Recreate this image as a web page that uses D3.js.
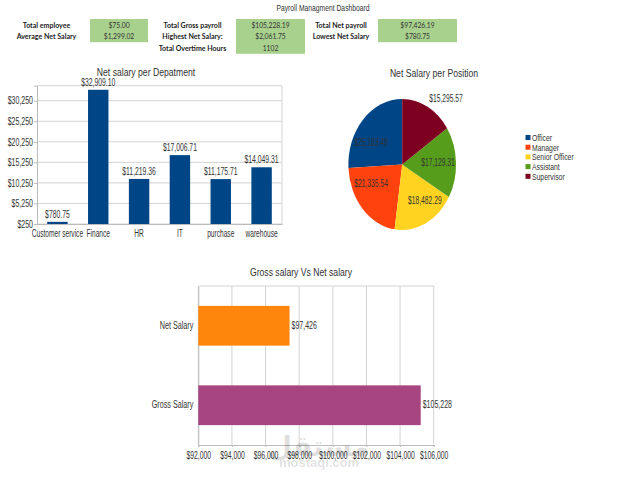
<!DOCTYPE html>
<html>
<head>
<meta charset="utf-8">
<script src="https://cdn.jsdelivr.net/npm/d3@7"></script>
<style>
  html, body { margin: 0; padding: 0; background: #fff; }
  text { font-family: "Liberation Sans", sans-serif; fill: #333; }
  .kpi { font-family: Lato, sans-serif; font-size: 8px; }
  .kpi-label { font-weight: 700; fill: #222; }
  .grid line { stroke: #d4d4d4; stroke-width: 1; }
  .axis path, .axis line { stroke: #bbb; }
  .axis text { fill: #333; }
</style>
</head>
<body>
<div id="chart"></div>
<script>
const departments = ["Customer service", "Finance", "HR", "IT", "purchase", "warehouse"];
const departmentNet = [780.75, 32909.1, 11219.36, 17006.71, 11175.71, 14049.31];
const departmentTicks = [250, 5250, 10250, 15250, 20250, 25250, 30250];

const positions = ["Officer", "Manager", "Senior Officer", "Assistant", "Supervisor"];
const positionNet = [25183.48, 21335.54, 18482.29, 17129.31, 15295.57];
const positionColors = ["#004586", "#ff420e", "#ffd320", "#579d1c", "#7e0021"];

const payTypes = ["Net Salary", "Gross Salary"];
const payTotals = [97426.19, 105228.19];
const payColors = ["#ff860d", "#a64580"];
const payTicks = [92000, 94000, 96000, 98000, 100000, 102000, 104000, 106000];

const kpiLabels = ["Total employee", "Average Net Salary", "Total Gross payroll", "Highest Net Salary:",
  "Total Overtime Hours", "Total Net payroll", "Lowest Net Salary"];
const kpiValues = ["$75.00", "$1,299.02", "$105,228.19", "$2,061.75", "1102", "$97,426.19", "$780.75"];

const width = 640;
const height = 480;

const svg = d3.select("#chart").append("svg")
  .attr("width", width)
  .attr("height", height)
  .style("display", "block");

// the original text is a horizontally squashed screenshot, no narrow font here so squeeze it
function squeeze(selection, ratio) {
  selection.each(function () {
    d3.select(this)
      .attr("lengthAdjust", "spacingAndGlyphs")
      .attr("textLength", this.getComputedTextLength() * ratio);
  });
}

svg.append("text")
  .attr("x", 323).attr("y", 10.5)
  .attr("text-anchor", "middle")
  .style("font-size", "9px")
  .text("Payroll Managment Dashboard")
  .call(squeeze, 0.75);

// kpi header, three groups of label + green box
const kpiGroups = [
  { labelX: 46.5, boxX: 90, boxW: 58, items: [0, 1] },
  { labelX: 192.5, boxX: 236, boxW: 69, items: [2, 3, 4] },
  { labelX: 341, boxX: 378, boxW: 79, items: [5, 6] }
];

kpiGroups.forEach(function (group) {
  svg.append("rect")
    .attr("x", group.boxX).attr("y", 19)
    .attr("width", group.boxW)
    .attr("height", group.items.length * 11.6)
    .attr("fill", "#a9d18e");

  group.items.forEach(function (k, i) {
    const y = 28 + i * 11.3;
    svg.append("text")
      .attr("class", "kpi kpi-label")
      .attr("x", group.labelX).attr("y", y)
      .attr("text-anchor", "middle")
      .text(kpiLabels[k])
      .call(squeeze, 0.88);
    svg.append("text")
      .attr("class", "kpi")
      .attr("x", group.boxX + group.boxW / 2).attr("y", y)
      .attr("text-anchor", "middle")
      .text(kpiValues[k])
      .call(squeeze, 0.84);
  });
});

// net salary per department
const xDept = d3.scaleBand(departments, [37, 282]).paddingInner(0.5).paddingOuter(0.25);
const yDept = d3.scaleLinear([250, 33900], [224, 85.7]);

svg.append("text")
  .attr("x", 146).attr("y", 76)
  .attr("text-anchor", "middle")
  .style("font-size", "11.5px")
  .text("Net salary per Depatment")
  .call(squeeze, 0.75);

svg.append("g")
  .attr("class", "grid")
  .selectAll("line")
  .data(departmentTicks.concat([33900]))
  .join("line")
  .attr("x1", 37).attr("x2", 282)
  .attr("y1", (d) => yDept(d)).attr("y2", (d) => yDept(d));

svg.append("line")
  .attr("x1", 282).attr("x2", 282)
  .attr("y1", 85.7).attr("y2", 224)
  .attr("stroke", "#d4d4d4");

svg.append("g")
  .attr("class", "axis")
  .attr("transform", "translate(37,0)")
  .call(d3.axisLeft(yDept).tickValues(departmentTicks).tickFormat(d3.format("$,")).tickSize(3).tickPadding(1))
  .call((g) => g.selectAll("text").style("font-size", "10px").call(squeeze, 0.7));

svg.append("g")
  .attr("class", "axis")
  .attr("transform", "translate(0,224)")
  .call(d3.axisBottom(xDept).tickSize(0).tickPadding(6))
  .call((g) => g.selectAll("text").style("font-size", "10px").call(squeeze, 0.66));

svg.selectAll(".dept-bar")
  .data(departmentNet)
  .join("rect")
  .attr("class", "dept-bar")
  .attr("x", (d, i) => xDept(departments[i]))
  .attr("y", (d) => yDept(d))
  .attr("width", xDept.bandwidth())
  .attr("height", (d) => 224 - yDept(d))
  .attr("fill", "#004586");

svg.selectAll(".dept-label")
  .data(departmentNet)
  .join("text")
  .attr("class", "dept-label")
  .attr("x", (d, i) => xDept(departments[i]) + xDept.bandwidth() / 2)
  .attr("y", (d) => yDept(d) - 4)
  .attr("text-anchor", "middle")
  .style("font-size", "10px")
  .text((d) => d3.format("$,.2f")(d))
  .call(squeeze, 0.68);

// net salary per position, squashed pie like the picture
svg.append("text")
  .attr("x", 434).attr("y", 77)
  .attr("text-anchor", "middle")
  .style("font-size", "11.5px")
  .text("Net Salary per Position")
  .call(squeeze, 0.75);

const pieX = 402.2;
const pieY = 164.5;
const pieRx = 53.8;
const pieRy = 65.5;

const pie = d3.pie().sort(null).startAngle(0).endAngle(-2 * Math.PI);
const arc = d3.arc().innerRadius(0).outerRadius(1);
const slices = pie(positionNet);

svg.append("g")
  .attr("transform", `translate(${pieX},${pieY}) scale(${pieRx},${pieRy})`)
  .selectAll("path")
  .data(slices)
  .join("path")
  .attr("d", arc)
  .attr("fill", (d, i) => positionColors[i]);

// labels start at the slice centroid, then nudged to where the picture has them
const labelNudge = [[-7, 6.5], [-6.5, -8], [8, 0], [2.5, 0], [28, -30]];
const pieLabelArc = d3.arc().innerRadius(0.62).outerRadius(0.62);

svg.selectAll(".pie-label")
  .data(slices)
  .join("text")
  .attr("class", "pie-label")
  .attr("transform", function (d, i) {
    const c = pieLabelArc.centroid(d);
    const px = pieX + c[0] * pieRx + labelNudge[i][0];
    const py = pieY + c[1] * pieRy + 3 + labelNudge[i][1];
    return "translate(" + px + "," + py + ")";
  })
  .attr("text-anchor", "middle")
  .style("font-size", "10px")
  .text((d) => d3.format("$,.2f")(d.value))
  .call(squeeze, 0.67);

const legend = svg.append("g").attr("transform", "translate(525.5,135)");
legend.selectAll("rect")
  .data(positions)
  .join("rect")
  .attr("y", (d, i) => i * 9.7)
  .attr("width", 5).attr("height", 5)
  .attr("fill", (d, i) => positionColors[i]);
legend.selectAll("text")
  .data(positions)
  .join("text")
  .attr("x", 6.5)
  .attr("y", (d, i) => i * 9.7 + 6)
  .style("font-size", "9.5px")
  .text((d) => d)
  .call(squeeze, 0.72);

// gross vs net
const xPay = d3.scaleLinear([92000, 106000], [198.3, 433.7]);
const yPay = d3.scaleBand(payTypes, [286, 445]).paddingInner(0.5).paddingOuter(0.25);

svg.append("text")
  .attr("x", 301).attr("y", 276)
  .attr("text-anchor", "middle")
  .style("font-size", "11.5px")
  .text("Gross salary Vs Net salary")
  .call(squeeze, 0.75);

svg.append("g")
  .attr("class", "grid")
  .selectAll("line")
  .data(payTicks)
  .join("line")
  .attr("x1", (d) => xPay(d)).attr("x2", (d) => xPay(d))
  .attr("y1", 286).attr("y2", 445);

svg.append("line")
  .attr("x1", 198.3).attr("x2", 433.7)
  .attr("y1", 286).attr("y2", 286)
  .attr("stroke", "#d4d4d4");

svg.append("g")
  .attr("class", "axis")
  .attr("transform", "translate(0,445)")
  .call(d3.axisBottom(xPay).tickValues(payTicks).tickFormat(d3.format("$,")).tickSize(2).tickPadding(5))
  .call((g) => g.selectAll("text").style("font-size", "10px").call(squeeze, 0.68));

svg.append("g")
  .attr("class", "axis")
  .attr("transform", "translate(198.3,0)")
  .call(d3.axisLeft(yPay).tickSize(0).tickPadding(5))
  .call((g) => g.selectAll("text").style("font-size", "10px").call(squeeze, 0.72));

svg.selectAll(".pay-bar")
  .data(payTotals)
  .join("rect")
  .attr("class", "pay-bar")
  .attr("x", xPay(92000))
  .attr("y", (d, i) => yPay(payTypes[i]))
  .attr("width", (d) => xPay(d) - xPay(92000))
  .attr("height", yPay.bandwidth())
  .attr("fill", (d, i) => payColors[i]);

svg.selectAll(".pay-label")
  .data(payTotals)
  .join("text")
  .attr("class", "pay-label")
  .attr("x", (d) => xPay(d) + 2)
  .attr("y", (d, i) => yPay(payTypes[i]) + yPay.bandwidth() / 2 + 3)
  .style("font-size", "10px")
  .text((d) => d3.format("$,.0f")(d))
  .call(squeeze, 0.7);

// watermark
svg.append("text")
  .attr("x", 319).attr("y", 456)
  .attr("text-anchor", "middle")
  .style("font-family", "'DejaVu Sans', sans-serif")
  .style("font-size", "28px")
  .style("font-weight", "700")
  .style("fill", "#000")
  .style("fill-opacity", 0.13)
  .text("مستقل");
svg.append("text")
  .attr("x", 319).attr("y", 467)
  .attr("text-anchor", "middle")
  .style("font-size", "13px")
  .style("font-weight", "700")
  .style("fill", "#000")
  .style("fill-opacity", 0.13)
  .text("mostaqi.com");
</script>
</body>
</html>
